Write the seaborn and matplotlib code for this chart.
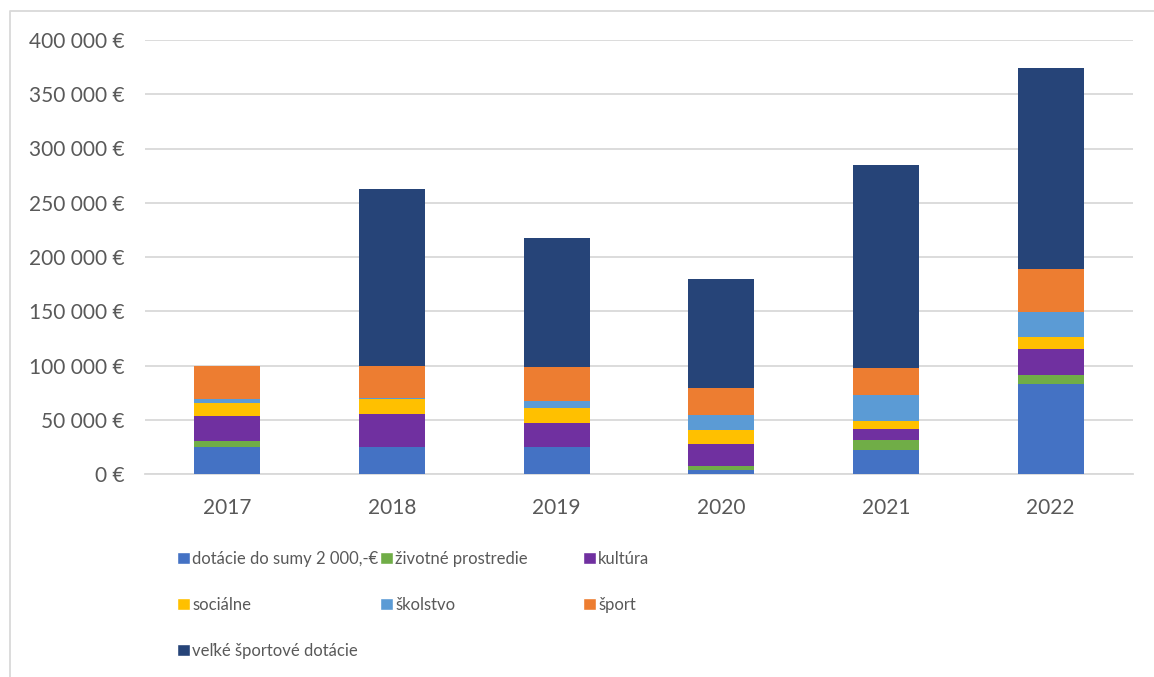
import numpy as np
import pandas as pd
import matplotlib
matplotlib.use('Agg')
import matplotlib.pyplot as plt
from matplotlib.patches import Patch
from matplotlib.lines import Line2D
from matplotlib.ticker import FuncFormatter
import seaborn as sns

# Data (EUR)
years = ['2017', '2018', '2019', '2020', '2021', '2022']
dotacie_2000 = [25000, 25000, 25200, 3700, 22400, 82700]
zivotne = [5000, 0, 0, 3300, 9200, 8900]
kultura = [23000, 30000, 21600, 20400, 9900, 23400]
socialne = [12500, 14000, 14200, 13300, 7700, 11000]
skolstvo = [4000, 1000, 6200, 13300, 23700, 23100]
sport = [30500, 30000, 31800, 25300, 24900, 39400]
velke_sport = [0, 162700, 118500, 100400, 187000, 185700]

labels = ['dotácie do sumy 2 000,-€', 'životné prostredie', 'kultúra',
          'sociálne', 'školstvo', 'šport', 'veľké športové dotácie']
colors = ['#4472C4', '#70AD47', '#7030A0', '#FFC000', '#5B9BD5', '#ED7D31', '#264478']
series = [dotacie_2000, zivotne, kultura, socialne, skolstvo, sport, velke_sport]

sns.set_theme(style='white')
plt.rcParams['font.family'] = ['Lato', 'DejaVu Sans']
text_color = '#595959'
grid_color = '#D9D9D9'

fig = plt.figure(figsize=(11.54, 6.77), dpi=100)
ax = fig.add_axes([145 / 1154, 1 - 474 / 677, 988 / 1154, 434 / 677])

# stacked bars: draw cumulative totals, tallest first
cum = np.cumsum(np.array(series), axis=0)
for i in range(len(series) - 1, -1, -1):
    df = pd.DataFrame({'year': years, 'value': cum[i]})
    sns.barplot(data=df, x='year', y='value', color=colors[i], width=0.4,
                saturation=1, ax=ax, zorder=3, linewidth=0)

ax.set_ylim(0, 400000)
ax.set_xlim(-0.5, 5.5)
ax.set_yticks(np.arange(0, 400001, 50000))
ax.yaxis.set_major_formatter(FuncFormatter(lambda v, p: f'{int(v):,} €'.replace(',', ' ')))
ax.set_xlabel('')
ax.set_ylabel('')
ax.grid(axis='y', color=grid_color, linewidth=1.3, zorder=0)
ax.grid(axis='x', visible=False)
for s in ['top', 'right', 'left']:
    ax.spines[s].set_visible(False)
ax.spines['bottom'].set_color(grid_color)
ax.spines['bottom'].set_linewidth(1.3)
ax.tick_params(axis='both', length=0, labelsize=15, colors=text_color)
ax.tick_params(axis='y', pad=15)
ax.tick_params(axis='x', pad=17)

# legend in three columns, laid out like the Excel one
cols = [[0, 3, 6], [1, 4], [2, 5]]
xs = [177, 380, 583]
for col, x in zip(cols, xs):
    handles = [Patch(facecolor=colors[k], label=labels[k]) for k in col]
    leg = fig.legend(handles=handles, loc='upper left',
                     bbox_to_anchor=(x / 1154, 1 - 551 / 677), frameon=False,
                     fontsize=12, handlelength=0.75, handleheight=0.75,
                     handletextpad=0.15, labelspacing=1.8, borderpad=0,
                     borderaxespad=0)
    for t in leg.get_texts():
        t.set_color(text_color)

# outer chart border (only left and top edges fall inside the image)
fig.lines.append(Line2D([10 / 1154, 10 / 1154, 1], [0, 1 - 11 / 677, 1 - 11 / 677],
                        transform=fig.transFigure, color=grid_color, linewidth=1.3))

fig.savefig('out.png', dpi=100)
